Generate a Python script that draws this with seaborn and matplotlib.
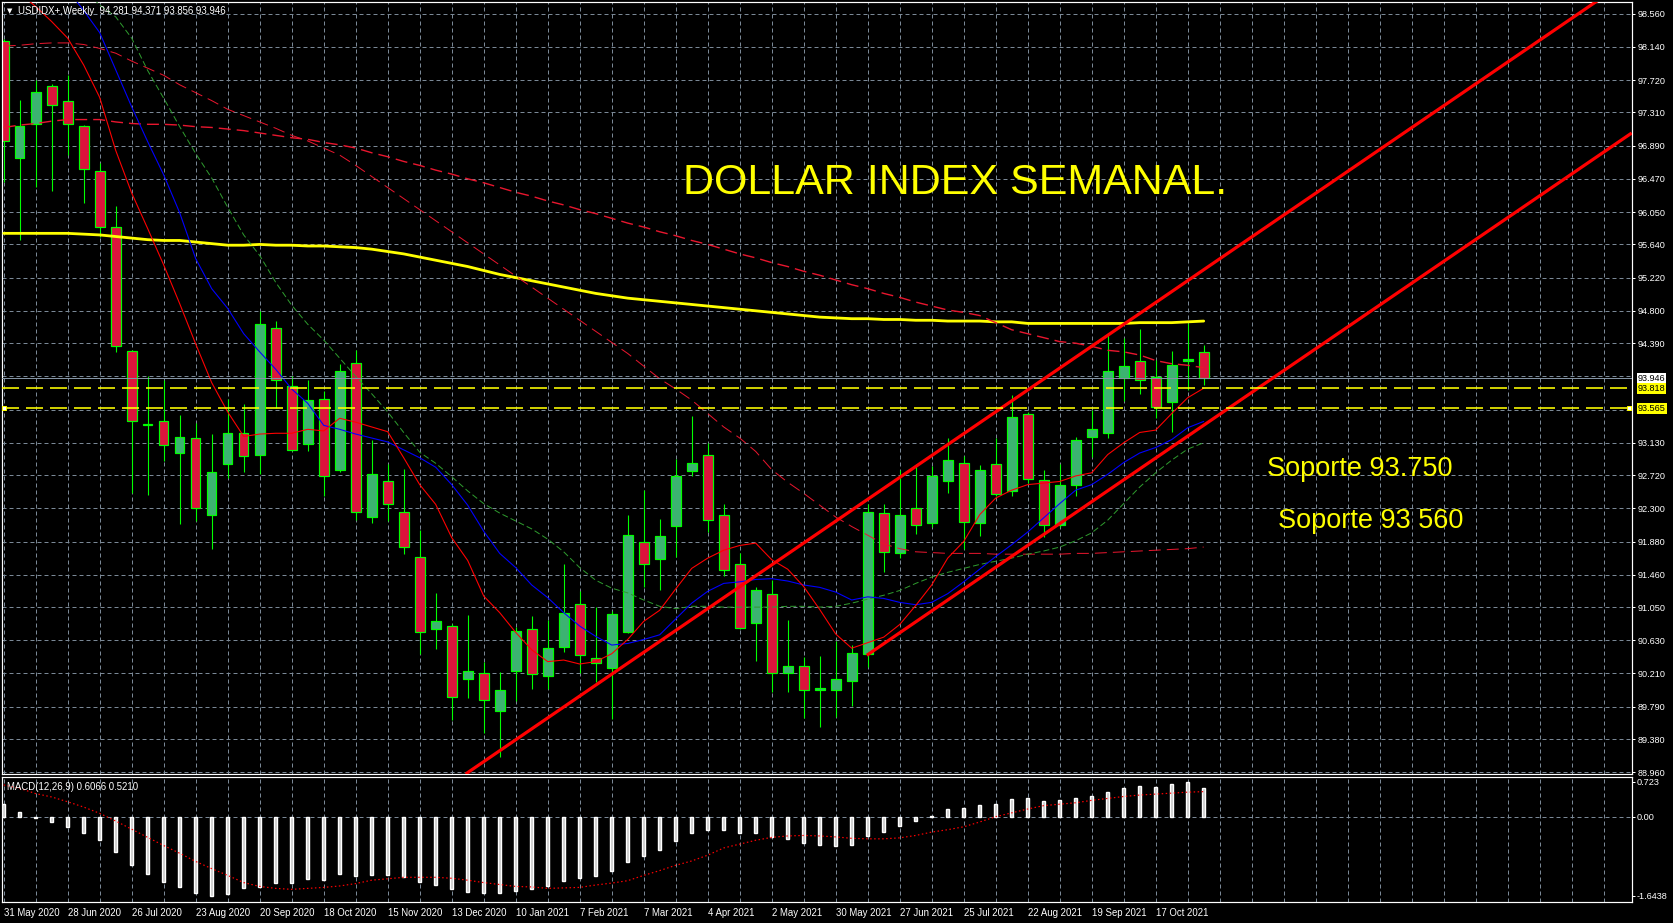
import matplotlib
matplotlib.use("Agg")
import matplotlib.pyplot as plt
import matplotlib.transforms as mtransforms
import numpy as np
import pandas as pd
import seaborn as sns

# USDIDX+ weekly candles, 31 May 2020 -> 7 Nov 2021
opens = [98.21, 96.73, 97.17, 97.64, 97.45, 97.135, 96.565, 95.86, 94.29, 93.35,
         93.40, 92.995, 93.185, 92.22, 92.86, 93.25, 92.97, 94.58, 93.85, 93.11,
         93.69, 92.79, 94.135, 92.19, 92.64, 92.25, 91.68, 90.77, 90.805, 90.135,
         90.22, 89.74, 90.24, 90.77, 90.18, 90.54, 91.085, 90.41, 90.275, 90.74,
         91.88, 91.66, 92.08, 92.775, 92.97, 92.21, 91.60, 90.85, 91.21, 90.22,
         90.30, 90.00, 90.00, 90.12, 90.46, 92.24, 91.74, 92.30, 92.12, 92.64,
         92.88, 92.11, 92.86, 92.52, 93.49, 92.66, 92.09, 92.60, 93.20, 93.25,
         93.95, 94.16, 93.96, 93.64, 94.17, 94.281]
highs = [98.24, 97.47, 97.72, 97.67, 97.79, 97.15, 96.67, 96.13, 94.30, 93.97,
         93.92, 93.48, 93.38, 93.24, 93.69, 93.62, 94.80, 94.67, 93.97, 93.92,
         93.78, 94.13, 94.30, 93.17, 92.86, 92.80, 92.02, 91.23, 90.83, 90.95,
         90.35, 90.23, 90.80, 90.94, 90.89, 91.60, 91.26, 91.05, 91.00, 92.22,
         92.53, 92.17, 92.93, 93.47, 93.13, 92.35, 91.73, 91.31, 91.39, 90.89,
         90.42, 90.43, 90.62, 90.57, 92.36, 92.35, 92.78, 92.835, 92.835, 93.19,
         92.96, 92.85, 93.19, 93.74, 93.52, 92.785, 92.86, 93.20, 93.55, 94.52,
         94.45, 94.57, 94.18, 94.29, 94.64, 94.371]
lows = [96.43, 95.70, 96.37, 96.32, 96.77, 96.17, 95.74, 94.28, 92.50, 92.47,
        92.90, 92.10, 92.14, 91.78, 92.68, 92.76, 92.74, 93.57, 93.02, 93.02,
        92.45, 92.76, 92.15, 92.11, 92.14, 91.72, 90.455, 90.52, 89.62, 89.90,
        89.46, 89.155, 89.86, 90.01, 90.01, 90.48, 90.22, 90.10, 89.64, 90.72,
        91.31, 91.27, 91.69, 92.71, 92.00, 91.45, 90.77, 90.37, 89.98, 89.98,
        89.65, 89.53, 89.66, 89.80, 90.29, 91.50, 91.67, 91.98, 92.06, 92.50,
        91.78, 91.95, 92.45, 92.46, 92.62, 91.94, 92.07, 92.45, 92.95, 93.185,
        93.66, 93.75, 93.44, 93.26, 93.80, 93.856]
closes = [96.95, 97.14, 97.565, 97.40, 97.16, 96.60, 95.856, 94.35, 93.40, 93.37,
          93.10, 93.20, 92.31, 92.755, 93.25, 92.96, 94.63, 93.92, 93.04, 93.67,
          92.71, 94.04, 92.25, 92.73, 92.36, 91.81, 90.74, 90.88, 89.91, 90.24,
          89.88, 90.00, 90.75, 90.20, 90.53, 90.97, 90.44, 90.34, 90.96, 91.96,
          91.60, 91.945, 92.71, 92.88, 92.15, 91.52, 90.78, 91.265, 90.22, 90.31,
          90.00, 90.03, 90.14, 90.47, 92.25, 91.75, 92.22, 92.085, 92.71, 92.91,
          92.13, 92.78, 92.48, 93.45, 92.67, 92.09, 92.60, 93.16, 93.30, 94.04,
          94.10, 93.93, 93.58, 94.12, 94.19, 93.946]

# moving averages (one value per week)
ma_red = [98.95, 98.82, 98.65, 98.46, 98.25, 97.91, 97.50, 96.83, 96.29, 95.84,
          95.38, 94.89, 94.38, 93.89, 93.52, 93.21, 93.24, 93.25, 93.25, 93.30,
          93.28, 93.44, 93.39, 93.33, 93.27, 92.94, 92.60, 92.35, 91.93, 91.64,
          91.19, 90.98, 90.73, 90.51, 90.36, 90.38, 90.33, 90.36, 90.46, 90.64,
          90.87, 91.01, 91.28, 91.54, 91.67, 91.77, 91.83, 91.86, 91.65, 91.53,
          91.31, 91.02, 90.71, 90.53, 90.60, 90.67, 90.83, 91.07, 91.33, 91.67,
          91.88, 92.22, 92.43, 92.53, 92.60, 92.62, 92.64, 92.71, 92.75, 92.98,
          93.13, 93.26, 93.29, 93.50, 93.70, 93.82]
ma_blue = [99.75, 99.52, 99.29, 99.07, 98.86, 98.60, 98.32, 97.85, 97.38, 96.94,
           96.52, 96.04, 95.46, 95.08, 94.83, 94.51, 94.28, 94.06, 93.81, 93.63,
           93.35, 93.30, 93.24, 93.19, 93.14, 93.04, 92.94, 92.82, 92.60, 92.34,
           92.01, 91.73, 91.55, 91.33, 91.17, 90.98, 90.81, 90.68, 90.57, 90.59,
           90.64, 90.70, 90.90, 91.10, 91.25, 91.35, 91.37, 91.40, 91.41, 91.38,
           91.33, 91.30, 91.24, 91.14, 91.18, 91.16, 91.11, 91.08, 91.11, 91.22,
           91.37, 91.53, 91.69, 91.84, 92.00, 92.18, 92.36, 92.53, 92.60, 92.73,
           92.88, 93.00, 93.07, 93.17, 93.32, 93.40]
ma_green = [99.65, 99.52, 99.38, 99.22, 99.04, 98.86, 98.67, 98.52, 98.25, 97.84,
            97.49, 97.13, 96.79, 96.48, 96.11, 95.76, 95.50, 95.16, 94.87, 94.63,
            94.43, 94.20, 93.97, 93.75, 93.52, 93.26, 93.01, 92.87, 92.70, 92.52,
            92.36, 92.24, 92.14, 92.04, 91.91, 91.75, 91.55, 91.39, 91.29, 91.23,
            91.14, 91.06, 91.03, 91.06, 91.06, 91.05, 91.05, 91.05, 91.05, 91.06,
            91.06, 91.05, 91.06, 91.10, 91.15, 91.20, 91.26, 91.35, 91.43, 91.49,
            91.54, 91.59, 91.63, 91.67, 91.72, 91.76, 91.81, 91.89, 91.99, 92.15,
            92.36, 92.57, 92.75, 92.91, 93.05, 93.13]
ma_mid = [98.15, 98.16, 98.18, 98.19, 98.19, 98.17, 98.12, 98.06, 97.96, 97.87,
          97.78, 97.66, 97.56, 97.46, 97.35, 97.27, 97.19, 97.11, 97.02, 96.95,
          96.86, 96.77, 96.64, 96.50, 96.36, 96.22, 96.08, 95.94, 95.80, 95.66,
          95.52, 95.38, 95.24, 95.10, 94.96, 94.82, 94.68, 94.54, 94.40, 94.26,
          94.10, 93.94, 93.81, 93.67, 93.50, 93.33, 93.19, 93.02, 92.79, 92.63,
          92.49, 92.34, 92.19, 92.07, 91.96, 91.85, 91.79, 91.75, 91.74, 91.73,
          91.73, 91.73, 91.72, 91.72, 91.72, 91.72, 91.72, 91.73, 91.73, 91.74,
          91.75, 91.76, 91.77, 91.78, 91.79, 91.81]
ma_slow = [97.12, 97.15, 97.17, 97.20, 97.22, 97.22, 97.22, 97.19, 97.17, 97.16,
           97.16, 97.15, 97.13, 97.12, 97.10, 97.08, 97.05, 97.02, 96.99, 96.97,
           96.93, 96.90, 96.86, 96.80, 96.75, 96.69, 96.64, 96.58, 96.53, 96.47,
           96.42, 96.36, 96.30, 96.25, 96.19, 96.14, 96.08, 96.03, 95.97, 95.91,
           95.86, 95.80, 95.75, 95.69, 95.64, 95.58, 95.52, 95.47, 95.41, 95.36,
           95.30, 95.25, 95.19, 95.13, 95.08, 95.02, 94.97, 94.91, 94.86, 94.81,
           94.78, 94.74, 94.65, 94.56, 94.51, 94.46, 94.41, 94.39, 94.35, 94.30,
           94.28, 94.24, 94.17, 94.13, 94.11, 94.08]
ma_yellow = [95.78, 95.78, 95.78, 95.78, 95.78, 95.77, 95.76, 95.74, 95.72, 95.70,
             95.69, 95.69, 95.67, 95.65, 95.63, 95.63, 95.64, 95.63, 95.63, 95.62,
             95.62, 95.61, 95.60, 95.58, 95.55, 95.52, 95.48, 95.44, 95.40, 95.36,
             95.31, 95.26, 95.22, 95.18, 95.14, 95.10, 95.06, 95.02, 94.99, 94.96,
             94.94, 94.92, 94.90, 94.88, 94.86, 94.84, 94.82, 94.80, 94.78, 94.76,
             94.74, 94.72, 94.71, 94.70, 94.70, 94.69, 94.69, 94.68, 94.68, 94.67,
             94.67, 94.67, 94.66, 94.66, 94.64, 94.64, 94.64, 94.64, 94.64, 94.64,
             94.64, 94.65, 94.65, 94.65, 94.66, 94.67]

# MACD(12,26,9)
macd_hist = [0.27, 0.09, -0.03, -0.11, -0.21, -0.33, -0.49, -0.73, -1.00, -1.19,
             -1.36, -1.46, -1.58, -1.6438, -1.60, -1.48, -1.47, -1.38, -1.37, -1.29,
             -1.32, -1.20, -1.24, -1.22, -1.22, -1.25, -1.35, -1.42, -1.51, -1.56,
             -1.59, -1.59, -1.55, -1.50, -1.44, -1.34, -1.27, -1.23, -1.13, -0.94,
             -0.82, -0.69, -0.51, -0.33, -0.28, -0.28, -0.33, -0.33, -0.42, -0.47,
             -0.54, -0.58, -0.61, -0.58, -0.40, -0.32, -0.19, -0.08, 0.01, 0.17,
             0.19, 0.24, 0.27, 0.37, 0.39, 0.33, 0.35, 0.39, 0.43, 0.51,
             0.59, 0.64, 0.62, 0.67, 0.723, 0.6066]
macd_signal = [0.66, 0.59, 0.48, 0.41, 0.31, 0.20, 0.07, -0.09, -0.26, -0.43,
               -0.60, -0.76, -0.93, -1.08, -1.22, -1.37, -1.45, -1.49, -1.51, -1.49,
               -1.47, -1.44, -1.39, -1.32, -1.29, -1.26, -1.26, -1.26, -1.28, -1.32,
               -1.37, -1.41, -1.45, -1.46, -1.49, -1.48, -1.47, -1.42, -1.38, -1.33,
               -1.22, -1.12, -1.01, -0.92, -0.80, -0.65, -0.57, -0.49, -0.43, -0.40,
               -0.39, -0.40, -0.42, -0.45, -0.46, -0.46, -0.44, -0.39, -0.32, -0.27,
               -0.21, -0.11, 0.00, 0.08, 0.16, 0.23, 0.26, 0.29, 0.34, 0.38,
               0.42, 0.45, 0.47, 0.49, 0.51, 0.521]

date_labels = ['31 May 2020', '28 Jun 2020', '26 Jul 2020', '23 Aug 2020', '20 Sep 2020',
               '18 Oct 2020', '15 Nov 2020', '13 Dec 2020', '10 Jan 2021', '7 Feb 2021',
               '7 Mar 2021', '4 Apr 2021', '2 May 2021', '30 May 2021', '27 Jun 2021',
               '25 Jul 2021', '22 Aug 2021', '19 Sep 2021', '17 Oct 2021']
grid_levels = [98.560, 98.140, 97.720, 97.310, 96.890, 96.470, 96.050, 95.640, 95.220,
               94.800, 94.390, 93.970, 93.550, 93.130, 92.720, 92.300, 91.880, 91.460,
               91.050, 90.630, 90.210, 89.790, 89.380, 88.960]
hidden_levels = [93.970, 93.550]
bid_price = 93.946
support_levels = [93.818, 93.565]
macd_labels = [0.723, 0.0, -1.6438]

# channel lines: (week, price) anchors
channel_upper = ([28.87, 101.75], [88.938, 99.02])
channel_lower = ([53.94, 101.75], [90.44, 97.05])

week = np.arange(len(opens))
df = pd.DataFrame({'week': week, 'open': opens, 'high': highs, 'low': lows, 'close': closes,
                   'ma_red': ma_red, 'ma_blue': ma_blue, 'ma_green': ma_green,
                   'ma_mid': ma_mid, 'ma_slow': ma_slow, 'ma_yellow': ma_yellow,
                   'hist': macd_hist, 'signal': macd_signal})

sns.set_theme(style='dark', rc={'figure.facecolor': 'black', 'axes.facecolor': 'black',
                                'axes.edgecolor': 'white', 'text.color': 'white',
                                'xtick.color': 'white', 'ytick.color': 'white'})
plt.rcParams['font.family'] = ['Liberation Sans', 'DejaVu Sans']
plt.rcParams['lines.scale_dashes'] = False

W, H = 1673, 923
PX = 0.72  # points per pixel at 100 dpi
fig = plt.figure(figsize=(W / 100, H / 100), dpi=100)
ax = fig.add_axes([2.3 / W, 1 - 774 / H, 1629.4 / W, 771.7 / H])
ax2 = fig.add_axes([2.3 / W, 1 - 901.7 / H, 1629.4 / W, 124.4 / H])

grid_kw = dict(color='#7a8896', lw=PX, ls=(0, (4 * PX, 3 * PX)), zorder=0.5)
for a in (ax, ax2):
    a.set_facecolor('black')
    a.set_xlim(-0.0875, 101.75)
    for b in range(0, 102, 2):
        a.axvline(b, **grid_kw)
    for s in a.spines.values():
        s.set_color('white')
        s.set_linewidth(PX * 1.2)
for lv in grid_levels:
    ax.axhline(lv, **grid_kw)
ax2.axhline(0, **grid_kw)

ax.set_ylim(88.938, 98.704)
ax2.set_ylim(-1.767, 0.819)

# candles
bull = df['close'] >= df['open']
body_lo = np.minimum(df['open'], df['close'])
body_h = np.maximum((df['close'] - df['open']).abs(), 0.008)
ax.vlines(df['week'], df['low'], df['high'], color='#00ff00', lw=PX * 1.1, zorder=2)
ax.bar(df['week'], body_h, bottom=body_lo, width=0.6,
       color=np.where(bull, '#3cb371', '#dc143c'), edgecolor='#00ff00',
       linewidth=PX * 1.2, zorder=2.1)

# moving averages
sns.lineplot(data=df, x='week', y='ma_yellow', ax=ax, color='#ffff00', lw=2.8 * PX, zorder=3)
sns.lineplot(data=df, x='week', y='ma_slow', ax=ax, color='#e8162e', lw=1.4 * PX,
             linestyle=(0, (12 * PX, 6 * PX)), zorder=3)
sns.lineplot(data=df, x='week', y='ma_mid', ax=ax, color='#e8162e', lw=1.0 * PX,
             linestyle=(0, (12 * PX, 6 * PX)), zorder=3)
sns.lineplot(data=df, x='week', y='ma_green', ax=ax, color='#2e9a2e', lw=1.0 * PX,
             linestyle=(0, (6 * PX, 3 * PX)), zorder=3)
sns.lineplot(data=df, x='week', y='ma_blue', ax=ax, color='#0000ff', lw=1.1 * PX, zorder=3)
sns.lineplot(data=df, x='week', y='ma_red', ax=ax, color='#ff0000', lw=1.1 * PX, zorder=3)

# channel
for xs, ys in (channel_upper, channel_lower):
    ax.plot(xs, ys, color='#ff0000', lw=3.2 * PX, zorder=4, solid_capstyle='butt')

# price lines
ax.axhline(bid_price, color='#8494a4', lw=PX, zorder=3.5)
for lv in support_levels:
    ax.axhline(lv, color='#ffff00', lw=1.6 * PX, ls=(0, (17 * PX, 7 * PX)), zorder=4)
ax.plot([0.05, 101.6], [support_levels[1]] * 2, 's', ms=4 * PX, mfc='white',
        mec='#ffff00', mew=PX, zorder=5, clip_on=False)

# right price axis
ax.yaxis.tick_right()
label_levels = [lv for lv in grid_levels if lv not in hidden_levels]
ax.set_yticks(label_levels)
ax.set_yticklabels([f'{lv:.3f}' for lv in label_levels])
ax.tick_params(axis='y', direction='out', length=3 * PX, width=PX, pad=3 * PX,
               labelsize=6.6, colors='white')
ax.set_xticks([])
ax.set_xlabel('')
ax.set_ylabel('')

lab_tr = mtransforms.offset_copy(mtransforms.blended_transform_factory(ax.transAxes, ax.transData),
                                 fig=fig, x=6, y=0, units='dots')
for val, fc in ((bid_price, 'white'), (support_levels[0], '#ffff00'), (support_levels[1], '#ffff00')):
    ax.text(1.0, val, f'{val:.3f}', transform=lab_tr, ha='left', va='center', fontsize=6.6,
            color='black', bbox=dict(boxstyle='square,pad=0.12', fc=fc, ec='none'), zorder=6)

# MACD panel
ax2.bar(df['week'], df['hist'], width=0.17, color='#c8c8c8', zorder=2)
sns.lineplot(data=df, x='week', y='signal', ax=ax2, color='#ff0000', lw=1.2 * PX,
             linestyle=(0, (1.5 * PX, 2.5 * PX)), zorder=3)
ax2.yaxis.tick_right()
ax2.set_yticks(macd_labels)
ax2.set_yticklabels(['0.723', '0.00', '-1.6438'])
ax2.tick_params(axis='y', direction='out', length=3 * PX, width=PX, pad=2 * PX,
                labelsize=6.6, colors='white')
ax2.set_xticks(np.arange(0, len(date_labels) * 4, 4))
ax2.set_xticklabels(date_labels)
ax2.tick_params(axis='x', direction='out', length=4 * PX, width=PX, pad=2 * PX,
                labelsize=6.9, colors='white')
for lab in ax2.get_xticklabels():
    lab.set_ha('left')
ax2.set_xlabel('')
ax2.set_ylabel('')

# texts
fig.text(7 / W, 1 - 10.7 / H, '\u25bc', fontsize=5, color='white', va='center',
         family=['DejaVu Sans'])
fig.text(18 / W, 1 - 10.7 / H, 'USDIDX+,Weekly  94.281 94.371 93.856 93.946',
         fontsize=6.9, color='white', va='center')
fig.text(7.3 / W, 1 - 786.7 / H, 'MACD(12,26,9) 0.6066 0.5210', fontsize=6.9,
         color='white', va='center')
fig.text(683 / W, 1 - 183 / H, 'DOLLAR INDEX SEMANAL.', fontsize=31, color='#ffff00',
         va='center', ha='left')
fig.text(1267 / W, 1 - 469.5 / H, 'Soporte 93.750', fontsize=19.5, color='#ffff00',
         va='center', ha='left')
fig.text(1278 / W, 1 - 521 / H, 'Soporte 93 560', fontsize=19.5, color='#ffff00',
         va='center', ha='left')

fig.savefig('out.png', dpi=100, facecolor='black')
